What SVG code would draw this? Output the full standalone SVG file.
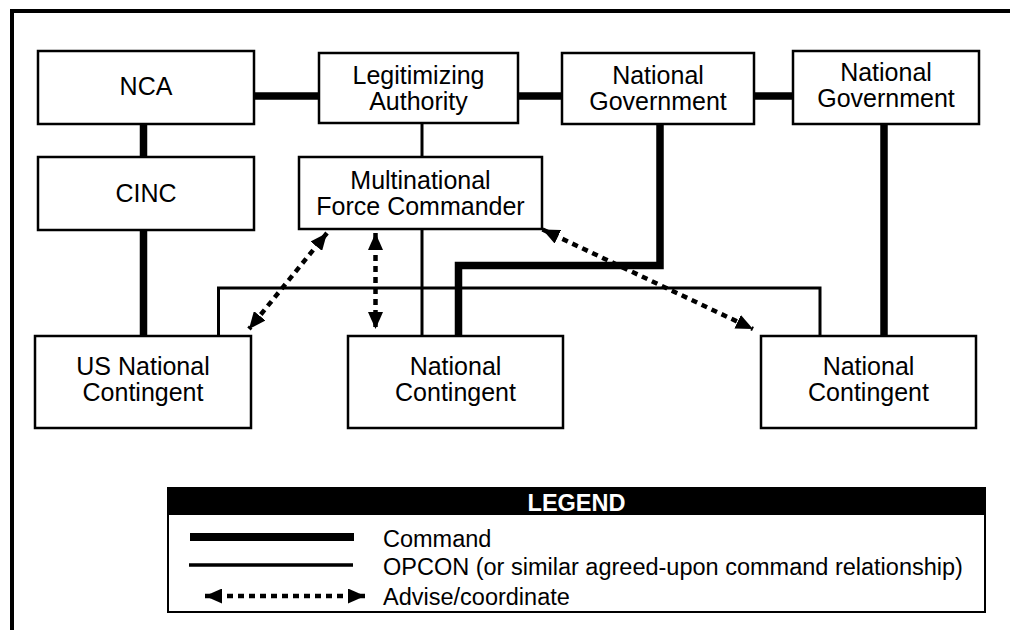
<svg xmlns="http://www.w3.org/2000/svg" width="1010" height="630" viewBox="0 0 1010 630">
<style>
.box{fill:#fff;stroke:#000;stroke-width:2.5}
.t{font-family:"Liberation Sans",Arial,sans-serif;font-size:25px;fill:#000;text-anchor:middle}
.lt{font-family:"Liberation Sans",Arial,sans-serif;font-size:23.5px;fill:#000}
.cmd{stroke:#000;stroke-width:7.5;fill:none;stroke-linejoin:miter}
.op{stroke:#000;stroke-width:3;fill:none}
.adv{stroke:#000;stroke-width:4.5;stroke-dasharray:6 5;fill:none;marker-start:url(#ah);marker-end:url(#ah)}
</style>
<defs>
<marker id="ah" viewBox="0 0 17 15" refX="17" refY="7.5" markerWidth="17" markerHeight="15" markerUnits="userSpaceOnUse" orient="auto-start-reverse">
<path d="M0,0 L17,7.5 L0,15 z" fill="#000"/>
</marker>
</defs>
<rect width="1010" height="630" fill="#fff"/>
<g id="frame">
<line x1="10" y1="11" x2="1010" y2="11" stroke="#000" stroke-width="4"/>
<line x1="12" y1="9" x2="12" y2="630" stroke="#000" stroke-width="4"/>
</g>
<g id="connectors">
<line class="cmd" x1="254" y1="96" x2="319" y2="96"/>
<line class="cmd" x1="518" y1="96" x2="562" y2="96"/>
<line class="cmd" x1="754" y1="96" x2="793" y2="96"/>
<line class="cmd" x1="143.5" y1="124" x2="143.5" y2="157"/>
<line class="cmd" x1="143.5" y1="230" x2="143.5" y2="336"/>
<polyline class="cmd" points="660,124 660,265.5 458.5,265.5 458.5,336"/>
<line class="cmd" x1="884" y1="124" x2="884" y2="336"/>
<line class="op" x1="422" y1="123" x2="422" y2="157"/>
<line class="op" x1="422" y1="229" x2="422" y2="336"/>
<polyline class="op" points="218.5,336 218.5,288 820,288 820,336"/>
<line class="adv" x1="327" y1="233" x2="249" y2="329"/>
<line class="adv" x1="375.5" y1="233" x2="375.5" y2="329"/>
<line class="adv" x1="542.5" y1="229.5" x2="753" y2="329"/>
</g>
<g id="nca"><rect class="box" x="38" y="51" width="216" height="73"/><text class="t" x="146" y="95">NCA</text></g>
<g id="cinc"><rect class="box" x="38" y="157" width="216" height="73"/><text class="t" x="146" y="201.5">CINC</text></g>
<g id="legit"><rect class="box" x="319" y="53" width="199" height="70"/><text class="t" x="418.5" y="83.5">Legitimizing</text><text class="t" x="418.5" y="110">Authority</text></g>
<g id="natgov1"><rect class="box" x="562" y="53" width="192" height="71"/><text class="t" x="658" y="83.5">National</text><text class="t" x="658" y="110">Government</text></g>
<g id="natgov2"><rect class="box" x="793" y="51" width="186" height="73"/><text class="t" x="886" y="81">National</text><text class="t" x="886" y="107">Government</text></g>
<g id="mfc"><rect class="box" x="299" y="157" width="243" height="72"/><text class="t" x="420.5" y="188.5">Multinational</text><text class="t" x="420.5" y="215">Force Commander</text></g>
<g id="usnc"><rect class="box" x="35" y="336" width="216" height="92"/><text class="t" x="143" y="374.5">US National</text><text class="t" x="143" y="401">Contingent</text></g>
<g id="nc1"><rect class="box" x="348" y="336" width="215" height="92"/><text class="t" x="455.5" y="374.5">National</text><text class="t" x="455.5" y="401">Contingent</text></g>
<g id="nc2"><rect class="box" x="761" y="336" width="215" height="92"/><text class="t" x="868.5" y="374.5">National</text><text class="t" x="868.5" y="401">Contingent</text></g>
<g id="legend">
<rect x="168" y="488" width="817" height="124" fill="#fff" stroke="#000" stroke-width="2"/>
<rect x="168" y="488" width="817" height="27" fill="#000"/>
<text x="576.5" y="511" font-family="Liberation Sans, Arial, sans-serif" font-size="23.5" font-weight="bold" fill="#fff" text-anchor="middle">LEGEND</text>
<line x1="190" y1="537" x2="354" y2="537" stroke="#000" stroke-width="8"/>
<line x1="189" y1="565" x2="353" y2="565" stroke="#000" stroke-width="3.5"/>
<line class="adv" x1="205" y1="596" x2="365" y2="596"/>
<text class="lt" x="383" y="547">Command</text>
<text class="lt" x="383" y="575">OPCON (or similar agreed-upon command relationship)</text>
<text class="lt" x="383" y="605">Advise/coordinate</text>
</g>
</svg>
